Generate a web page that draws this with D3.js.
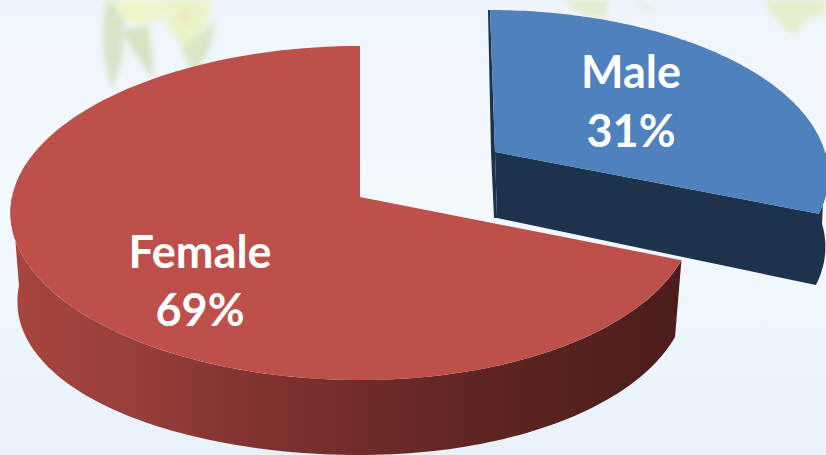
<!DOCTYPE html>
<html><head><meta charset="utf-8">
<script src="https://cdn.jsdelivr.net/npm/d3@7"></script>
<style>html,body{margin:0;padding:0;background:#f1f6fd;overflow:hidden}svg{display:block}</style>
</head><body><svg id="c" width="826" height="455"></svg>
<script>
const categories = ["Male", "Female"];
const values = [31, 69];
const labels = ["31%", "69%"];
const topColors = ["#4f81bd", "#be504c"];

const svg = d3.select("#c");
const defs = svg.append("defs");

// page background
const bg = defs.append("linearGradient").attr("id","bg").attr("x1",0).attr("y1",0).attr("x2",0).attr("y2",1);
[[0,"#eff5fc"],[0.45,"#f4f9fe"],[1,"#e8f2fb"]].forEach(s=>bg.append("stop").attr("offset",s[0]).attr("stop-color",s[1]));
svg.append("rect").attr("width",826).attr("height",455).attr("fill","url(#bg)");

// decorative leaves
defs.append("filter").attr("id","blur").attr("x","-30%").attr("y","-30%").attr("width","160%").attr("height","160%")
  .append("feGaussianBlur").attr("stdDeviation",3);
const leaves = svg.append("g").attr("filter","url(#blur)");
[
 ["M106,0 C101,30 102,60 112,90 C122,65 126,45 123,30 L130,0 Z","#d6e5c8"],
 ["M122,30 C130,48 145,65 153,82 C153,55 150,40 148,26 Z","#d3e3c0"],
 ["M112,0 C118,20 135,30 160,20 L172,0 Z","#eef5cb"],
 ["M160,0 C165,20 175,45 185,48 C198,42 208,20 212,0 Z","#ebf4c6"],
 ["M182,46 C186,60 190,70 193,74 C205,62 214,45 214,18 L205,30 Z","#d8e7c6"],
 ["M183,8 C180,15 182,24 186,26 C190,20 190,12 183,8 Z","#efe0c0"],
 ["M563,0 C572,10 590,20 605,17 L610,0 Z","#e0edd0"],
 ["M635,0 C642,8 650,14 656,16 C650,8 645,3 642,0 Z","#dfe9e4"],
 ["M764,0 C772,15 785,30 796,36 C800,25 808,15 826,14 L826,0 Z","#e3efca"]
].forEach(d=>leaves.append("path").attr("d",d[0]).attr("fill",d[1]));

// wall shading across the red slice
const wallGrad = defs.append("linearGradient").attr("id","wall")
  .attr("gradientUnits","userSpaceOnUse").attr("x1",10).attr("y1",0).attr("x2",681).attr("y2",0);
[[0,"#a8453f"],[0.18,"#983f3b"],[0.38,"#7f3231"],[0.7,"#5f2523"],[1,"#4b1d1c"]]
  .forEach(s=>wallGrad.append("stop").attr("offset",s[0]).attr("stop-color",s[1]));

// slice angles come from the data, clockwise from 12 o'clock
const arcs = d3.pie().sort(null)(values);

// perspective view of a disc, one per slice because the male slice is pulled out
const views = [
  {cx:495, cy:152, k:160,   p:0.127,  r0:330,   rs:0,   shear:5, depth:66, dLeft:0,  dRight:6, shrink:0.985, shift:2, wall:"#1d324d"},
  {cx:360, cy:197, k:165.5, p:0.0958, r0:340.5, rs:7.5, shear:0, depth:75, dLeft:14, dRight:2, shrink:0.98,  shift:0, wall:"url(#wall)"}
];
function project(view, a, lower) {
  const u = Math.sin(a), v = -Math.cos(a), w = 1/(1 - view.p*v);
  const s = lower ? view.shrink : 1;
  const extra = lower ? view.depth + (u < 0 ? view.dLeft : view.dRight)*u*u : 0;
  return [
    view.cx + view.shear*v + u*w*(view.r0 - view.rs*u)*s + (lower ? view.shift : 0),
    view.cy + view.k*v*w + extra
  ];
}
const line = d3.line();
const sweep = (a0,a1) => d3.range(0,121).map(i=>d3.scaleLinear().domain([0,120]).range([a0,a1])(i));

categories.forEach((c,i)=>{
  const view = views[i], a = arcs[i];
  const g = svg.append("g");
  const apex = [view.cx, view.cy];
  const apexLow = [view.cx + view.shift, view.cy + view.depth];
  const rim = sweep(a.startAngle, a.endAngle);

  if (i === 0) {
    // near-edge sliver, cut face and outer wall of the pulled-out slice
    const t0 = project(view,0);
    g.append("path").attr("fill", view.wall)
      .attr("d", line([t0,apex,apexLow,[view.cx-1,view.cy+view.depth],[view.cx-4,view.cy],[t0[0]-2,t0[1]]])+"Z");
    const wallArc = sweep(a.endAngle, Math.PI/2);
    g.append("path").attr("fill", view.wall)
      .attr("d", line([apex, ...wallArc.map(t=>project(view,t)),
                       ...wallArc.slice().reverse().map(t=>project(view,t,true)), apexLow])+"Z");
  } else {
    const wallArc = sweep(a.startAngle, Math.PI*1.5);
    g.append("path").attr("fill", view.wall)
      .attr("d", line([...wallArc.map(t=>project(view,t)),
                       ...wallArc.slice().reverse().map(t=>project(view,t,true))])+"Z");
  }
  g.append("path").attr("fill", topColors[i])
    .attr("d", line([apex, ...rim.map(t=>project(view,t))])+"Z");
});

// labels
const labelAt = [[631,88,147],[200,268,326]];
categories.forEach((c,i)=>{
  const t = svg.append("g").attr("font-family","Lato, 'Open Sans', sans-serif")
    .attr("font-weight",700).attr("font-size",45).attr("fill","#fff").attr("text-anchor","middle");
  t.append("text").attr("x",labelAt[i][0]).attr("y",labelAt[i][1]).text(c);
  t.append("text").attr("x",labelAt[i][0]).attr("y",labelAt[i][2]).text(labels[i]);
});
</script></body></html>
